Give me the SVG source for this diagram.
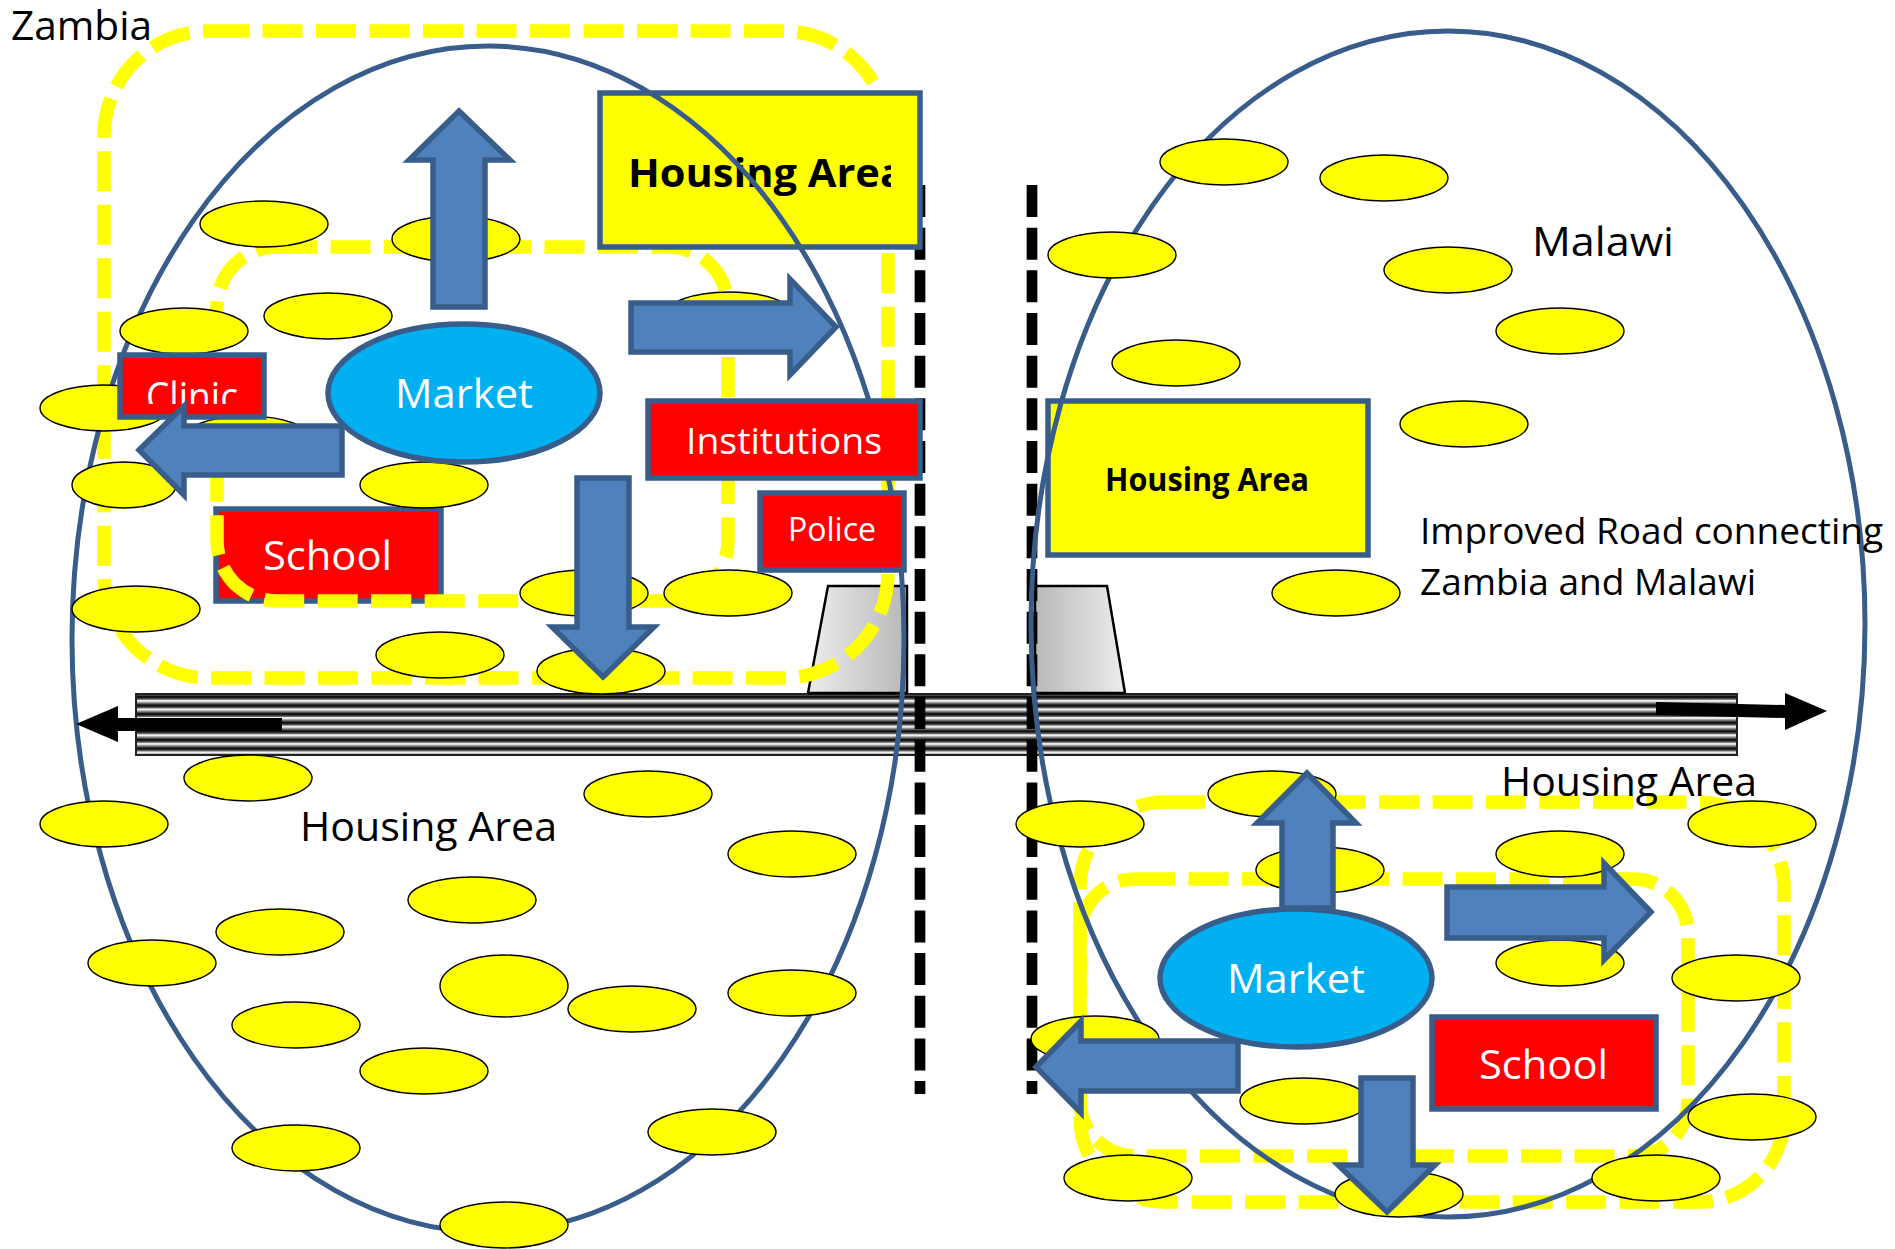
<svg xmlns="http://www.w3.org/2000/svg" width="1895" height="1249" viewBox="0 0 1895 1249">
<style>
.big{fill:none;stroke:#385d8a;stroke-width:5}
.h{fill:#ff0;stroke:#000;stroke-width:1.4}
.dash{fill:none;stroke:#ff0;stroke-width:13.5;stroke-dasharray:40 13.5}
.border{fill:none;stroke:#000;stroke-width:10.7;stroke-dasharray:32 10.67}
.box{stroke:#385d8a;stroke-width:5.5}
.red{fill:#f00}.yel{fill:#ff0}
.mk{fill:#00b0f0;stroke:#385d8a;stroke-width:5.5}
.ar{fill:#4f81bd;stroke:#385d8a;stroke-width:5.5;stroke-linejoin:miter}
.t{font-family:"Open Sans",Lato,sans-serif;font-size:40px;fill:#000}
.w{fill:#fff}
.b{font-weight:700}
.trap{stroke:#000;stroke-width:2.5}
</style>
<defs>
<pattern id="stripes" width="10" height="8.6" patternUnits="userSpaceOnUse" y="696">
<rect width="10" height="8.6" fill="#9a9a9a"/>
<rect width="10" height="2.6" fill="#111"/>
<rect y="2.6" width="10" height="1.2" fill="#666"/>
<rect y="3.8" width="10" height="2.2" fill="#eee"/>
<rect y="6" width="10" height="1.2" fill="#aaa"/>
<rect y="7.2" width="10" height="1.4" fill="#444"/>
</pattern>
<linearGradient id="gl" x1="0" x2="1" y1="0" y2="0"><stop offset="0" stop-color="#ededed"/><stop offset="1" stop-color="#b8b8b8"/></linearGradient>
<linearGradient id="gr" x1="0" x2="1" y1="0" y2="0"><stop offset="0" stop-color="#b8b8b8"/><stop offset="1" stop-color="#ededed"/></linearGradient>
<clipPath id="clipA"><rect x="600" y="100" width="291" height="140"/></clipPath>
<clipPath id="clipC"><rect x="120" y="360" width="144" height="44"/></clipPath>
</defs>

<g id="road"><rect x="136" y="694" width="1601" height="61" fill="url(#stripes)" stroke="#222" stroke-width="2"/></g>
<g id="gate-left"><polygon class="trap" fill="url(#gl)" points="828,586 907,586 907,693 808,693"/></g>
<g id="gate-right"><polygon class="trap" fill="url(#gr)" points="1035,586 1107,586 1125,693 1035,693"/></g>
<g id="border-left"><line class="border" x1="920" y1="185" x2="920" y2="1094"/></g>
<g id="border-right"><line class="border" x1="1032" y1="185" x2="1032" y2="1094"/></g>

<g id="school-zambia"><rect class="box red" x="216" y="509" width="225" height="92"/><text class="t w" x="263" y="570" textLength="129" lengthAdjust="spacingAndGlyphs">School</text></g>

<g id="zone-zambia-outer"><rect class="dash" x="104" y="31" width="784" height="647" rx="105" ry="105"/></g>
<g id="zone-zambia-inner"><rect class="dash" x="217" y="247" width="511" height="354" rx="60" ry="60"/></g>
<g id="zone-malawi-outer"><rect class="dash" x="1080" y="802" width="704" height="400" rx="85" ry="85"/></g>
<g id="zone-malawi-inner"><rect class="dash" x="1080" y="879" width="608" height="277" rx="55" ry="55"/></g>

<g id="housing-zambia"><rect class="box yel" x="600" y="93" width="320" height="154"/><text class="t b" x="628" y="187" textLength="277" lengthAdjust="spacingAndGlyphs" clip-path="url(#clipA)">Housing Area</text></g>
<g id="housing-malawi"><rect class="box yel" x="1048" y="401" width="320" height="154"/><text class="t b" x="1105" y="491" style="font-size:33px" textLength="204" lengthAdjust="spacingAndGlyphs">Housing Area</text></g>

<g id="country-zambia"><ellipse class="big" cx="488" cy="639" rx="416" ry="593"/></g>
<g id="country-malawi"><ellipse class="big" cx="1448" cy="624" rx="417" ry="593"/></g>

<g id="houses">
<g id="h1"><ellipse class="h" cx="264" cy="224" rx="64" ry="23"/></g>
<g id="h2"><ellipse class="h" cx="456" cy="239" rx="64" ry="23"/></g>
<g id="h3"><ellipse class="h" cx="328" cy="316" rx="64" ry="23"/></g>
<g id="h4"><ellipse class="h" cx="184" cy="331" rx="64" ry="23"/></g>
<g id="h5"><ellipse class="h" cx="104" cy="408" rx="64" ry="23"/></g>
<g id="h6"><ellipse class="h" cx="247" cy="439" rx="64" ry="23"/></g>
<g id="h7"><ellipse class="h" cx="124" cy="485" rx="52" ry="23"/></g>
<g id="h8"><ellipse class="h" cx="424" cy="485" rx="64" ry="23"/></g>
<g id="h9"><ellipse class="h" cx="136" cy="609" rx="64" ry="23"/></g>
<g id="h10"><ellipse class="h" cx="584" cy="593" rx="64" ry="23"/></g>
<g id="h11"><ellipse class="h" cx="728" cy="593" rx="64" ry="23"/></g>
<g id="h12"><ellipse class="h" cx="440" cy="655" rx="64" ry="23"/></g>
<g id="h13"><ellipse class="h" cx="601" cy="671" rx="64" ry="23"/></g>
<g id="h14"><ellipse class="h" cx="729" cy="315" rx="64" ry="23"/></g>
<g id="h15"><ellipse class="h" cx="248" cy="778" rx="64" ry="23"/></g>
<g id="h16"><ellipse class="h" cx="648" cy="794" rx="64" ry="23"/></g>
<g id="h17"><ellipse class="h" cx="104" cy="824" rx="64" ry="23"/></g>
<g id="h18"><ellipse class="h" cx="792" cy="854" rx="64" ry="23"/></g>
<g id="h19"><ellipse class="h" cx="472" cy="900" rx="64" ry="23"/></g>
<g id="h20"><ellipse class="h" cx="280" cy="932" rx="64" ry="23"/></g>
<g id="h21"><ellipse class="h" cx="152" cy="963" rx="64" ry="23"/></g>
<g id="h22"><ellipse class="h" cx="504" cy="986" rx="64" ry="31"/></g>
<g id="h23"><ellipse class="h" cx="632" cy="1009" rx="64" ry="23"/></g>
<g id="h24"><ellipse class="h" cx="792" cy="993" rx="64" ry="23"/></g>
<g id="h25"><ellipse class="h" cx="296" cy="1025" rx="64" ry="23"/></g>
<g id="h26"><ellipse class="h" cx="424" cy="1071" rx="64" ry="23"/></g>
<g id="h27"><ellipse class="h" cx="296" cy="1148" rx="64" ry="23"/></g>
<g id="h28"><ellipse class="h" cx="712" cy="1132" rx="64" ry="23"/></g>
<g id="h29"><ellipse class="h" cx="504" cy="1225" rx="64" ry="23"/></g>
<g id="h30"><ellipse class="h" cx="1224" cy="162" rx="64" ry="23"/></g>
<g id="h31"><ellipse class="h" cx="1384" cy="178" rx="64" ry="23"/></g>
<g id="h32"><ellipse class="h" cx="1112" cy="255" rx="64" ry="23"/></g>
<g id="h33"><ellipse class="h" cx="1448" cy="270" rx="64" ry="23"/></g>
<g id="h34"><ellipse class="h" cx="1560" cy="331" rx="64" ry="23"/></g>
<g id="h35"><ellipse class="h" cx="1176" cy="363" rx="64" ry="23"/></g>
<g id="h36"><ellipse class="h" cx="1464" cy="424" rx="64" ry="23"/></g>
<g id="h37"><ellipse class="h" cx="1336" cy="593" rx="64" ry="23"/></g>
<g id="h38"><ellipse class="h" cx="1272" cy="794" rx="64" ry="23"/></g>
<g id="h39"><ellipse class="h" cx="1080" cy="824" rx="64" ry="23"/></g>
<g id="h40"><ellipse class="h" cx="1320" cy="870" rx="64" ry="23"/></g>
<g id="h41"><ellipse class="h" cx="1560" cy="854" rx="64" ry="23"/></g>
<g id="h42"><ellipse class="h" cx="1752" cy="824" rx="64" ry="23"/></g>
<g id="h43"><ellipse class="h" cx="1560" cy="963" rx="64" ry="23"/></g>
<g id="h44"><ellipse class="h" cx="1736" cy="978" rx="64" ry="23"/></g>
<g id="h45"><ellipse class="h" cx="1095" cy="1039" rx="64" ry="23"/></g>
<g id="h46"><ellipse class="h" cx="1304" cy="1101" rx="64" ry="23"/></g>
<g id="h47"><ellipse class="h" cx="1752" cy="1117" rx="64" ry="23"/></g>
<g id="h48"><ellipse class="h" cx="1128" cy="1178" rx="64" ry="23"/></g>
<g id="h49"><ellipse class="h" cx="1399" cy="1194" rx="64" ry="23"/></g>
<g id="h50"><ellipse class="h" cx="1656" cy="1178" rx="64" ry="23"/></g>
</g>

<g id="clinic"><rect class="box red" x="120" y="355" width="144" height="62"/><text class="t w" x="146" y="411" textLength="92" lengthAdjust="spacingAndGlyphs" clip-path="url(#clipC)">Clinic</text></g>
<g id="institutions"><rect class="box red" x="648" y="401" width="272" height="77"/><text class="t w" style="font-size:37px" x="686" y="454" textLength="196" lengthAdjust="spacingAndGlyphs">Institutions</text></g>
<g id="police"><rect class="box red" x="760" y="493" width="144" height="77"/><text class="t w" style="font-size:32px" x="788" y="541" textLength="88" lengthAdjust="spacingAndGlyphs">Police</text></g>
<g id="school-malawi"><rect class="box red" x="1432" y="1017" width="224" height="92"/><text class="t w" x="1479" y="1079" textLength="129" lengthAdjust="spacingAndGlyphs">School</text></g>
<g id="market-zambia"><ellipse class="mk" cx="464" cy="393" rx="136" ry="69"/><text class="t w" x="395" y="408" textLength="138" lengthAdjust="spacingAndGlyphs">Market</text></g>
<g id="market-malawi"><ellipse class="mk" cx="1296" cy="978" rx="136" ry="69"/><text class="t w" x="1227" y="993" textLength="138" lengthAdjust="spacingAndGlyphs">Market</text></g>

<g id="connectors">
<polygon class="ar" points="459,111 510,160 485,160 485,307 433,307 433,160 409,160"/>
<polygon class="ar" points="836,327 790,279 790,303 631,303 631,352 790,352 790,375"/>
<polygon class="ar" points="139,450 184,406 184,426 342,426 342,475 184,475 184,495"/>
<polygon class="ar" points="603,677 654,627 629,627 629,478 577,478 577,627 552,627"/>
<polygon class="ar" points="1307,773 1356,823 1333,823 1333,908 1282,908 1282,823 1257,823"/>
<polygon class="ar" points="1651,912 1604,863 1604,887 1447,887 1447,938 1604,938 1604,960"/>
<polygon class="ar" points="1036,1067 1081,1021 1081,1041 1238,1041 1238,1091 1081,1091 1081,1113"/>
<polygon class="ar" points="1387,1212 1435,1165 1413,1165 1413,1078 1361,1078 1361,1165 1338,1165"/>
<polygon fill="#000" points="76,724 118,706 118,718 282,718 282,731 118,731 118,742"/>
<polygon fill="#000" points="1827,711 1785,693 1785,705 1656,702 1656,715 1785,718 1785,730"/>
</g>

<g id="labels">
<text class="t" x="11" y="40" textLength="141" lengthAdjust="spacingAndGlyphs">Zambia</text>
<text class="t" x="1532" y="256" textLength="142" lengthAdjust="spacingAndGlyphs">Malawi</text>
<text class="t" style="font-size:36px" x="1420" y="544" textLength="463" lengthAdjust="spacingAndGlyphs">Improved Road connecting</text>
<text class="t" style="font-size:36px" x="1420" y="595" textLength="336" lengthAdjust="spacingAndGlyphs">Zambia and Malawi</text>
<text class="t" x="300" y="841" textLength="257" lengthAdjust="spacingAndGlyphs">Housing Area</text>
<text class="t" x="1501" y="796" textLength="256" lengthAdjust="spacingAndGlyphs">Housing Area</text>
</g>
</svg>
